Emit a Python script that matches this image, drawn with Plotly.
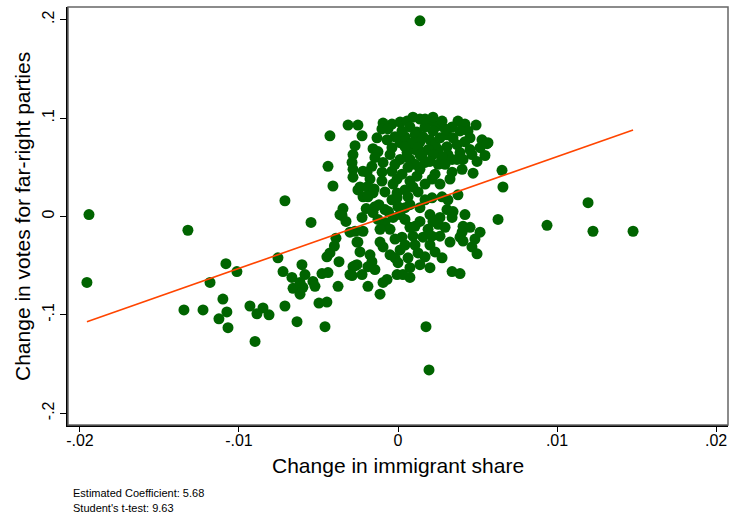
import plotly.graph_objects as go

# Change in immigrant share (x) and change in votes for far-right parties (y)
imm_share = [
    -0.01943, -0.01956, -0.01321, -0.01346, -0.01226, -0.01182, -0.01082, -0.01013, -0.01101, -0.01076,
    -0.01126, -0.01069, -0.00931, -0.00887, -0.00849, -0.00811, -0.00899, -0.00711, -0.00755, -0.00723,
    -0.00604, -0.00585, -0.00667, -0.00660, -0.00616, -0.00598, -0.00535, -0.00522, -0.00478, -0.00440,
    -0.00447, -0.00428, -0.00497, -0.00447, -0.00459, -0.00635, -0.00711, -0.00409, -0.00547, -0.00365,
    -0.00428, -0.00440, -0.00346, -0.00352, -0.00327, -0.00302, -0.00258, -0.00371, -0.00270, -0.00289,
    -0.00377, -0.00616, -0.00314, -0.00252, -0.00226, -0.00270, -0.00283, -0.00289, -0.00283, -0.00283,
    -0.00252, -0.00094, -0.00101, -0.00038, 0.00013, 0.00057, 0.00094, 0.00138, 0.00189, 0.00245,
    0.00220, 0.00119, 0.00157, 0.00377, 0.00421, 0.00340, 0.00440, 0.00308, 0.00346, 0.00453,
    0.00528, 0.00566, 0.00547, 0.00308, 0.00371, 0.00453, 0.00465, 0.00390, 0.00314, 0.00340,
    0.00371, 0.00409, 0.00252, 0.00277, 0.00151, 0.00170, 0.00107, 0.00075, 0.00233, 0.00214,
    0.00138, 0.00119, 0.00340, 0.00403, 0.00472, 0.00654, 0.00660, 0.00377, 0.00277, 0.00214,
    0.00094, 0.00126, -0.00157, -0.00126, -0.00038, -0.00145, -0.00164, -0.00094, -0.00195, -0.00220,
    -0.00176, -0.00239, -0.00195, -0.00101, -0.00157, -0.00082, -0.00006, 0.00025, -0.00038, 0.00013,
    0.00057, 0.00013, 0.00044, -0.00019, -0.00006, 0.00044, 0.00063, 0.00075, 0.00107, 0.00138,
    0.00170, 0.00201, 0.00233, 0.00088, 0.00126, 0.00189, 0.00220, 0.00044, 0.00170, 0.00264,
    0.00296, 0.00201, 0.00252, 0.00107, 0.00063, -0.00050, -0.00019, -0.00069, -0.00063, -0.00132,
    0.00296, 0.00327, 0.00264, 0.00170, 0.00075, 0.00497, 0.00516, -0.00031, 0.00138, 0.00025,
    0.00220, 0.00277, 0.00491, 0.00390, 0.00421, -0.00220, -0.00189, -0.00145, -0.00157, -0.00038,
    -0.00006, -0.00226, -0.00082, -0.00050, -0.00031, 0.00013, 0.00044, -0.00270, -0.00220, 0.00025,
    -0.00113, -0.00094, -0.00252, -0.00239, -0.00050, -0.00019, 0.00013, 0.00000, -0.00176, -0.00164,
    -0.00189, -0.00258, -0.00283, -0.00226, -0.00069, -0.00006, 0.00031, -0.00189, 0.00629, 0.00308,
    0.00346, 0.00340, 0.00264, 0.00252, 0.00201, 0.00220, 0.00138, 0.00107, 0.00409, 0.00453,
    0.00403, 0.00390, 0.00327, 0.00409, 0.00465, 0.00497, 0.00107, 0.00126, 0.00170, 0.00201,
    0.00233, 0.00277, 0.00157, 0.00214, 0.00264, 0.00094, 0.00340, 0.00390, 0.00075, 0.00138,
    0.00170, 0.00044, 0.00075, 0.00189, 0.00296, 0.00063, 0.00075, 0.00044, 0.00138, 0.00201,
    -0.00113, -0.00094, 0.00075, -0.00145, -0.00302, -0.00113, -0.00082, -0.00126, -0.00019, 0.00314,
    0.00421, 0.00484, 0.00516, 0.00560, 0.00937, 0.01195, 0.01226, 0.01478, 0.00138, 0.00176,
    0.00195, -0.00390, -0.00400, -0.00120, -0.00060, -0.00150, 0.00000, -0.00200, -0.00100,
]
vote_change = [
    0.002, -0.067, -0.014, -0.095, -0.095, -0.067, -0.048, -0.056, -0.084, -0.097,
    -0.104, -0.113, -0.091, -0.099, -0.093, -0.100, -0.127, 0.016, -0.042, -0.056,
    -0.049, -0.059, -0.062, -0.073, -0.079, -0.072, -0.066, -0.071, -0.058, -0.057,
    -0.041, -0.037, -0.088, -0.087, -0.112, -0.107, -0.091, 0.031, -0.006, 0.002,
    0.082, 0.051, 0.008, 0.001, -0.005, -0.016, -0.026, -0.046, -0.050, -0.060,
    -0.071, -0.067, 0.093, 0.093, 0.082, 0.072, 0.063, 0.055, 0.048, 0.040,
    0.027, 0.095, 0.089, 0.094, 0.096, 0.097, 0.101, 0.099, 0.096, 0.092,
    0.087, 0.086, 0.081, 0.097, 0.094, 0.091, 0.087, 0.083, 0.080, 0.080,
    0.078, 0.075, 0.062, 0.071, 0.073, 0.068, 0.063, 0.065, 0.063, 0.058,
    0.058, 0.058, 0.068, 0.061, 0.061, 0.055, 0.068, 0.058, 0.043, 0.038,
    0.048, 0.041, 0.045, 0.048, 0.044, 0.047, 0.030, 0.022, 0.020, 0.019,
    0.030, 0.025, 0.069, 0.066, 0.070, 0.060, 0.051, 0.055, 0.045, 0.046,
    0.038, 0.030, 0.030, 0.036, 0.024, 0.025, 0.038, 0.043, 0.046, 0.058,
    0.065, 0.075, 0.081, 0.081, 0.024, 0.027, 0.020, 0.091, 0.083, 0.076,
    0.091, 0.078, 0.073, 0.075, 0.070, 0.068, 0.063, 0.071, 0.099, 0.080,
    0.089, 0.056, 0.053, 0.053, 0.050, 0.063, 0.053, 0.078, 0.089, 0.080,
    0.053, 0.038, 0.033, 0.033, 0.036, 0.056, 0.070, 0.033, 0.063, 0.087,
    0.101, 0.097, 0.093, 0.087, 0.076, 0.020, 0.020, 0.010, 0.004, 0.017,
    0.019, -0.001, -0.006, -0.013, -0.001, 0.002, -0.003, -0.015, -0.015, -0.021,
    -0.026, -0.031, -0.026, -0.036, -0.039, -0.042, -0.034, -0.047, -0.039, -0.046,
    -0.051, -0.049, -0.051, -0.059, -0.064, -0.059, -0.059, -0.071, -0.003, 0.007,
    0.005, -0.001, -0.001, -0.008, 0.002, -0.005, -0.005, -0.010, -0.010, -0.011,
    -0.016, -0.021, -0.026, -0.025, -0.031, -0.038, -0.029, -0.037, -0.041, -0.029,
    -0.036, -0.042, -0.021, -0.020, -0.020, -0.020, -0.056, -0.058, 0.012, 0.009,
    0.017, 0.009, -0.011, -0.013, -0.011, -0.042, -0.052, -0.029, -0.049, -0.052,
    -0.079, -0.067, -0.062, -0.054, -0.059, -0.013, 0.007, -0.003, -0.023, 0.017,
    0.002, -0.023, -0.016, 0.074, -0.009, 0.014, -0.015, -0.015, 0.199, -0.112,
    -0.156, -0.022, -0.030, 0.012, 0.005, 0.028, 0.010, 0.008, 0.045,
]

fit_coef = 5.68
fit_intercept = 0.004
t_stat = 9.63

x_ticks = [-0.02, -0.01, 0, 0.01, 0.02]
x_tick_labels = ["-.02", "-.01", "0", ".01", ".02"]
y_ticks = [-0.2, -0.1, 0, 0.1, 0.2]
y_tick_labels = ["-.2", "-.1", "0", ".1", ".2"]

fit_x = [min(imm_share), max(imm_share)]
fit_y = [fit_intercept + fit_coef * v for v in fit_x]

FONT = "Liberation Sans, Arial, sans-serif"

fig = go.Figure()
fig.add_trace(go.Scatter(
    x=imm_share, y=vote_change, mode="markers",
    marker=dict(color="#006400", size=11, line=dict(width=0)),
    showlegend=False, hoverinfo="skip",
))
fig.add_trace(go.Scatter(
    x=fit_x, y=fit_y, mode="lines",
    line=dict(color="#ff4500", width=1.6),
    showlegend=False, hoverinfo="skip",
))

fig.update_layout(
    width=730, height=521,
    margin=dict(l=68, r=2, t=7, b=96, autoexpand=False),
    plot_bgcolor="white", paper_bgcolor="white",
    font=dict(family=FONT, color="black"),
    xaxis=dict(
        range=[-0.02075, 0.02075], tickvals=x_ticks, ticktext=x_tick_labels,
        showgrid=False, zeroline=False, showline=True, linecolor="black", linewidth=1.5,
        ticks="outside", ticklen=5, tickcolor="black", tickwidth=1,
        tickfont=dict(size=16), automargin=False, ticklabelstandoff=-5,
    ),
    yaxis=dict(
        range=[-0.212, 0.213], tickvals=y_ticks, ticktext=y_tick_labels,
        showgrid=False, zeroline=False, showline=True, linecolor="black", linewidth=1.5,
        ticks="outside", ticklen=6, tickcolor="black", tickwidth=1,
        tickangle=-90, tickfont=dict(size=16), automargin=False,
    ),
    shapes=[dict(type="rect", xref="paper", yref="paper", x0=0, y0=0, x1=1, y1=1,
                 line=dict(color="#666666", width=1.5), layer="above")],
    annotations=[
        dict(text="Change in immigrant share", xref="paper", yref="paper",
             x=0.5, y=-0.098, xanchor="center", yanchor="middle", showarrow=False,
             font=dict(size=21)),
        dict(text="Change in votes for far-right parties", xref="paper", yref="paper",
             x=-0.0697, y=0.5, xanchor="center", yanchor="middle", showarrow=False,
             textangle=-90, font=dict(size=21)),
        dict(text=f"Estimated Coefficient: {fit_coef:.2f}", xref="paper", yref="paper",
             x=0.004, y=-0.1627, xanchor="left", yanchor="middle", showarrow=False,
             font=dict(size=11)),
        dict(text=f"Student's t-test: {t_stat:.2f}", xref="paper", yref="paper",
             x=0.004, y=-0.1986, xanchor="left", yanchor="middle", showarrow=False,
             font=dict(size=11)),
    ],
)

fig.write_html(
    "out.html",
    config={"displayModeBar": False},
    post_script="document.body.style.margin='0';document.body.style.overflow='hidden';",
)
